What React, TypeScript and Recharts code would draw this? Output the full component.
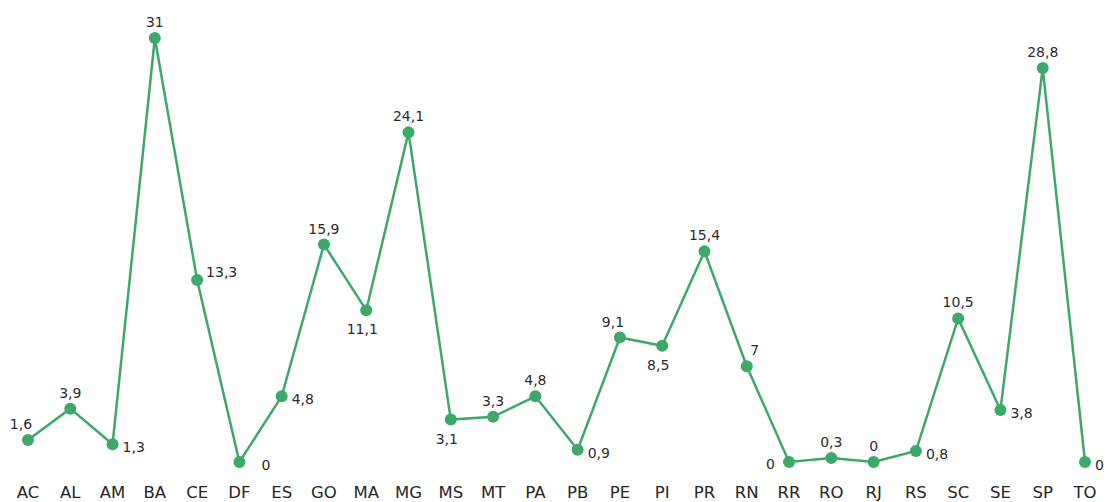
import { LineChart, Line, XAxis, YAxis, LabelList } from 'recharts';

const states = ['AC', 'AL', 'AM', 'BA', 'CE', 'DF', 'ES', 'GO', 'MA', 'MG', 'MS', 'MT', 'PA', 'PB', 'PE', 'PI', 'PR', 'RN', 'RR', 'RO', 'RJ', 'RS', 'SC', 'SE', 'SP', 'TO'];
const values = [1.6, 3.9, 1.3, 31, 13.3, 0, 4.8, 15.9, 11.1, 24.1, 3.1, 3.3, 4.8, 0.9, 9.1, 8.5, 15.4, 7, 0, 0.3, 0, 0.8, 10.5, 3.8, 28.8, 0];

// where each value label sits relative to its dot
const labelSides = ['topLeft', 'top', 'right', 'top', 'rightUp', 'farRight', 'right', 'top', 'bottom', 'top', 'bottom', 'top', 'top', 'right', 'topLeft', 'bottom', 'top', 'topRight', 'left', 'top', 'top', 'right', 'top', 'right', 'top', 'right'];

const GREEN = '#3ea86b';
const FONT = '"DejaVu Sans", Verdana, sans-serif';

const sideOffsets: Record<string, { dx: number; dy: number; anchor: 'start' | 'middle' | 'end' }> = {
  top: { dx: 0, dy: -16, anchor: 'middle' },
  topLeft: { dx: -7, dy: -16, anchor: 'middle' },
  topRight: { dx: 8, dy: -16, anchor: 'middle' },
  bottom: { dx: -4, dy: 19, anchor: 'middle' },
  right: { dx: 10, dy: 3, anchor: 'start' },
  rightUp: { dx: 9, dy: -8, anchor: 'start' },
  farRight: { dx: 22, dy: 3, anchor: 'start' },
  left: { dx: -14, dy: 2, anchor: 'end' },
};

const data = states.map((s, i) => ({ state: s, value: values[i] }));

const formatValue = (v: number) => String(v).replace('.', ',');

function ValueLabel(props: any) {
  const { x, y, value, index } = props;
  const o = sideOffsets[labelSides[index]] || sideOffsets.top;
  return (
    <text
      x={x + o.dx}
      y={y + o.dy}
      textAnchor={o.anchor}
      dominantBaseline="central"
      fill="#2b2b2b"
      fontSize={14}
      fontFamily={FONT}
    >
      {formatValue(value)}
    </text>
  );
}

export default function App() {
  return (
    <div style={{ position: 'absolute', left: 0, top: 0, background: '#fff' }}>
      <LineChart width={1111} height={502} data={data} margin={{ top: 38, right: 26, bottom: 0, left: 28 }}>
        <XAxis
          dataKey="state"
          axisLine={false}
          tickLine={false}
          height={40}
          interval={0}
          tickMargin={18}
          tick={{ fill: '#262626', fontSize: 16.5, fontFamily: FONT }}
        />
        <YAxis hide domain={[0, 31]} />
        <Line
          type="linear"
          dataKey="value"
          stroke={GREEN}
          strokeWidth={2.5}
          dot={{ r: 6, fill: GREEN, stroke: GREEN, strokeWidth: 0 }}
          activeDot={false}
          isAnimationActive={false}
        >
          <LabelList dataKey="value" content={<ValueLabel />} />
        </Line>
      </LineChart>
    </div>
  );
}
